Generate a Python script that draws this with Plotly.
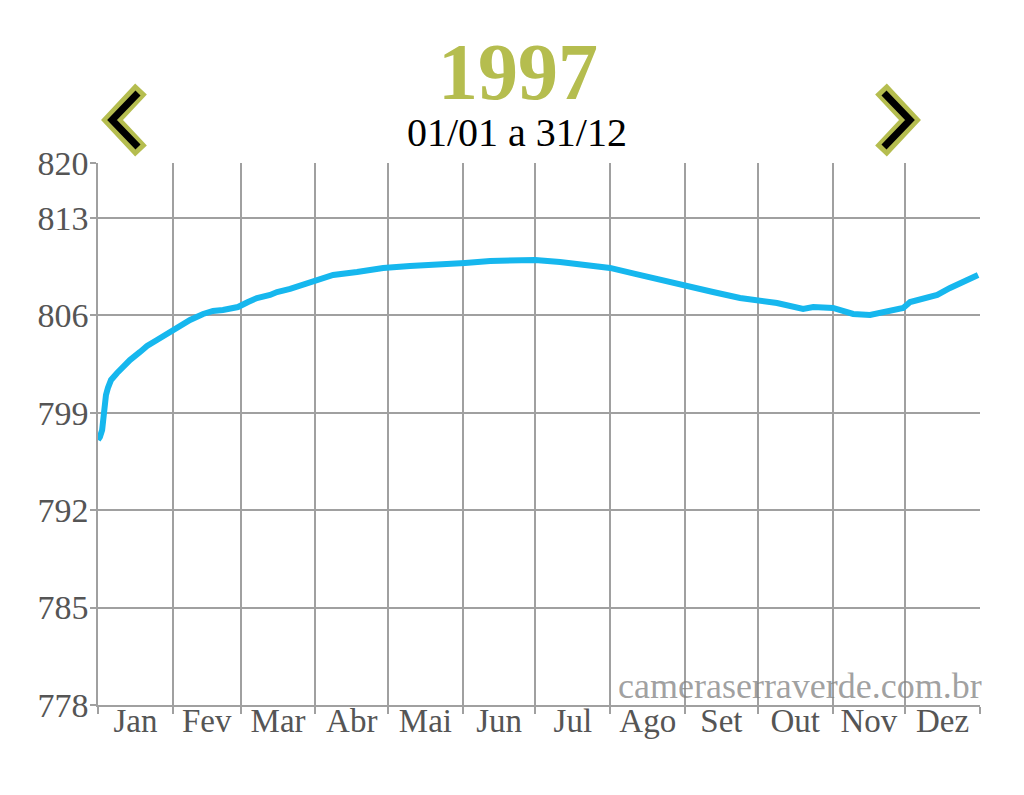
import plotly.graph_objects as go

# ---- data ----
days = [0, 0.8, 1.7, 2.5, 3.3, 4.1, 5.4, 7.9, 10.8, 13.2, 17.4, 20.3, 24.4, 27.7, 30.6,
        33.9, 38.1, 43.5, 47.6, 51.7, 57.9, 62.1, 65.8, 71.2, 74.1, 79.5, 84.9, 90.6,
        97.3, 107.2, 118.0, 129.1, 141.6, 151.9, 162.3, 170.5, 180.9, 191.2, 201.6,
        211.9, 222.3, 232.6, 242.5, 254.5, 265.7, 272.8, 281.0, 291.8, 296.0, 304.2,
        312.5, 319.5, 326.6, 333.2, 336.1, 343.1, 347.3, 352.6, 356.8, 364.2]
levels = [797.05, 797.26, 797.76, 799.2, 800.28, 800.78, 801.36, 801.86, 802.43, 802.79,
          803.37, 803.80, 804.23, 804.59, 804.95, 805.31, 805.67, 806.10, 806.32, 806.39,
          806.60, 806.96, 807.25, 807.47, 807.68, 807.90, 808.18, 808.54, 808.90, 809.12,
          809.41, 809.55, 809.62, 809.77, 809.91, 809.98, 809.98, 809.84, 809.62, 809.41,
          808.98, 808.54, 808.18, 807.68, 807.25, 807.11, 806.89, 806.46, 806.60, 806.53,
          806.10, 806.03, 806.24, 806.53, 806.96, 807.32, 807.47, 807.97, 808.33, 808.90]

month_starts = [0, 31, 59, 90, 120, 151, 181, 212, 243, 273, 304, 334, 365]
month_labels = ["Jan", "Fev", "Mar", "Abr", "Mai", "Jun", "Jul", "Ago", "Set", "Out", "Nov", "Dez"]
month_centers = [(month_starts[i] + month_starts[i + 1]) / 2 for i in range(12)]

y_tickvals = [778, 785, 792, 799, 806, 813, 816.95]
y_ticktext = ["778", "785", "792", "799", "806", "813", "820"]

title_text = "1997"
subtitle_text = "01/01 a 31/12"
watermark = "cameraserraverde.com.br"

# ---- layout helpers (screen pixel coords; page body has an 8px margin) ----
W, H = 1024, 795
OFF = 8
L, R, T, B = 98, 980, 163, 705


def px(x):
    return (x - L) / (R - L)


def py(y):
    return (B - y) / (B - T)


def chevron(pts):
    return "M {} {} L {} {} L {} {}".format(px(pts[0][0]), py(pts[0][1]), px(pts[1][0]), py(pts[1][1]),
                                            px(pts[2][0]), py(pts[2][1]))


SERIF = "Liberation Serif, Times New Roman, serif"
GRID = "rgb(160,160,160)"
TXT = "rgb(85,85,85)"
OLIVE = "rgb(181,189,79)"

fig = go.Figure()
fig.add_trace(go.Scatter(x=days, y=levels, mode="lines",
                         line=dict(color="rgb(22,183,238)", width=6),
                         hoverinfo="x+y", showlegend=False))

chevrons = [
    ([(141, 89), (112, 120), (141, 151)], [(138, 93), (112, 120), (138, 147)]),
    ([(881, 89), (910, 120), (881, 151)], [(884, 93), (910, 120), (884, 147)]),
]
shapes = []
for outer, inner in chevrons:
    shapes.append(dict(type="path", xref="paper", yref="paper", path=chevron(outer),
                       line=dict(color=OLIVE, width=16)))
    shapes.append(dict(type="path", xref="paper", yref="paper", path=chevron(inner),
                       line=dict(color="black", width=7)))

fig.update_layout(
    width=W, height=H,
    margin=dict(l=L - OFF, r=W - (R - OFF), t=T - OFF, b=H - (B - OFF), pad=0),
    paper_bgcolor="white", plot_bgcolor="white",
    font=dict(family=SERIF, color=TXT),
    shapes=shapes,
    annotations=[
        dict(text="<b>" + title_text + "</b>", xref="paper", yref="paper",
             x=px(518), y=py(72), xanchor="center", yanchor="middle", showarrow=False,
             font=dict(family=SERIF, size=80, color=OLIVE)),
        dict(text=subtitle_text, xref="paper", yref="paper",
             x=px(517), y=py(132), xanchor="center", yanchor="middle", showarrow=False,
             font=dict(family=SERIF, size=40, color="black")),
        dict(text=watermark, xref="paper", yref="paper",
             x=px(984), y=py(686), xanchor="right", yanchor="middle", showarrow=False,
             font=dict(family=SERIF, size=36, color="rgba(130,130,130,0.75)")),
    ],
    xaxis=dict(range=[0, 365], tickvals=month_centers, ticktext=month_labels,
               showgrid=False, ticks="", zeroline=False, ticklabelstandoff=-14,
               tickfont=dict(family=SERIF, size=33, color=TXT),
               showline=True, linecolor=GRID, linewidth=1.5,
               minor=dict(tickvals=month_starts, showgrid=True, gridcolor=GRID, gridwidth=1.5,
                          ticks="outside", ticklen=7, tickcolor=GRID, tickwidth=1.5)),
    yaxis=dict(range=[778, 816.95], tickvals=y_tickvals, ticktext=y_ticktext,
               showgrid=True, gridcolor=GRID, gridwidth=1.5, zeroline=False,
               ticks="outside", ticklen=6, tickcolor=GRID, tickwidth=1.5,
               ticklabelstandoff=-5,
               showline=True, linecolor=GRID, linewidth=1.5,
               tickfont=dict(family=SERIF, size=34, color=TXT)),
)

fig.write_html("out.html")
